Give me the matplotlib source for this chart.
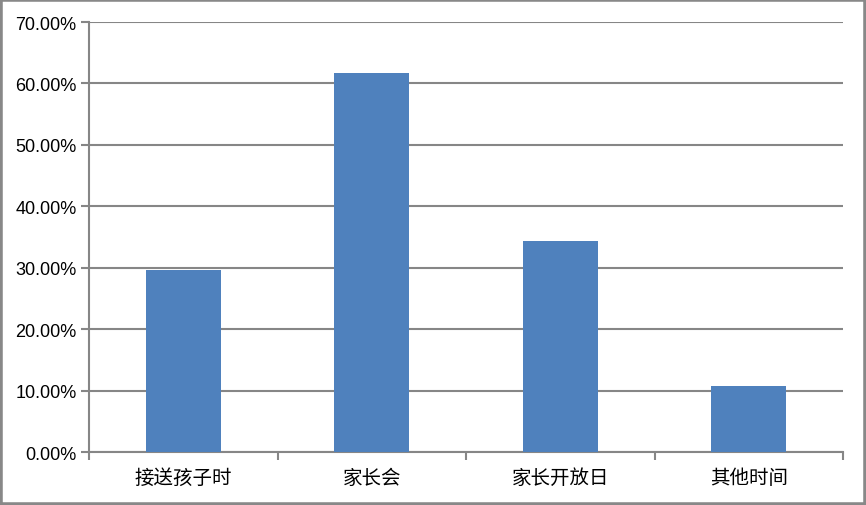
import matplotlib
matplotlib.use("Agg")
import matplotlib.pyplot as plt
from matplotlib.ticker import FuncFormatter, FixedLocator
from matplotlib.patches import Rectangle

categories = ["接送孩子时", "家长会", "家长开放日", "其他时间"]
values = [29.6, 61.7, 34.3, 10.8]
y_ticks = [0, 10, 20, 30, 40, 50, 60, 70]

plt.rcParams['font.family'] = ['Noto Sans CJK SC', 'DejaVu Sans']

fig = plt.figure(figsize=(8.66, 5.06), dpi=100)
ax = fig.add_axes([89/866, 1-453/506, (843-89)/866, (453-23)/506])

grid_c = "#868686"
x = list(range(len(categories)))
ax.bar(x, values, width=0.4, color="#4F81BD", zorder=3)

ax.set_xlim(-0.5, len(categories)-0.5)
ax.set_ylim(0, 70)
ax.set_yticks(y_ticks)
ax.yaxis.set_major_formatter(FuncFormatter(lambda v, p: f"{v:.2f}%"))
ax.grid(axis='y', color=grid_c, linewidth=1.5, zorder=0)

ax.set_xticks(x)
ax.set_xticklabels(categories, fontsize=14, family=['Noto Sans CJK SC'])
ax.tick_params(axis='x', which='major', length=0, pad=11)
ax.xaxis.set_minor_locator(FixedLocator([i - 0.5 for i in range(len(categories)+1)]))
ax.tick_params(axis='x', which='minor', length=6, width=1.5, color=grid_c)
ax.tick_params(axis='y', length=6, width=1.5, color=grid_c, labelsize=13, pad=3)
for lab in ax.get_yticklabels():
    lab.set_family(['Liberation Sans'])

for s in ['top', 'right']:
    ax.spines[s].set_visible(False)
for s in ['left', 'bottom']:
    ax.spines[s].set_color(grid_c)
    ax.spines[s].set_linewidth(1.5)

fig.patches.append(Rectangle((0, 0), 1, 1, transform=fig.transFigure,
                             fill=False, edgecolor="#888888", linewidth=4))

fig.savefig("out.png", dpi=100)
